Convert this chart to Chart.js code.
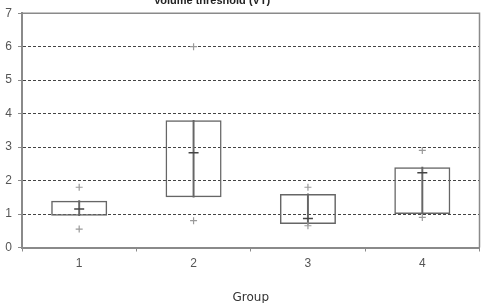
<!DOCTYPE html>
<html>
<head>
<meta charset="utf-8">
<script src="https://cdn.jsdelivr.net/npm/chart.js@4/dist/chart.umd.min.js"></script>
<style>
  html,body{margin:0;padding:0;background:#fff;}
  #wrap{width:486px;height:303px;position:relative;}
</style>
</head>
<body>
<div id="wrap"><canvas id="c"></canvas></div>
<script>
// ----- data -----
const groups = ['1','2','3','4'];
const boxLow  = [0.95, 1.5, 0.7, 1.0];
const boxHigh = [1.4, 3.8, 1.6, 2.4];
const meanV   = [1.15, 2.83, 0.87, 2.23];
const maxV    = [1.8, 6.0, 1.8, 2.9];
const minV    = [0.55, 0.8, 0.65, 0.9];
const yTicks  = [0,1,2,3,4,5,6,7];

const GRAY = '#8a8a8a', INK = '#555';
const boxes = groups.map((g,i)=>[boxLow[i], boxHigh[i]]);

// frame + cut-off title
const frame = {
  id:'frame',
  beforeDatasetsDraw(chart){
    const {ctx, chartArea:a} = chart;
    ctx.save();
    ctx.strokeStyle = GRAY; ctx.lineWidth = 1.5;
    ctx.beginPath();
    ctx.moveTo(a.left, a.top); ctx.lineTo(a.right, a.top); ctx.lineTo(a.right, a.bottom);
    ctx.stroke();
    ctx.restore();
  },
  afterDraw(chart){
    const ctx = chart.ctx;
    ctx.save();
    ctx.font = 'bold 11px "Liberation Sans", Arial, sans-serif';
    ctx.fillStyle = '#222';
    ctx.textAlign = 'center';
    ctx.textBaseline = 'alphabetic';
    ctx.fillText('Volume threshold (VT)', 212, 4);
    ctx.restore();
  }
};

new Chart(document.getElementById('c'), {
  type:'bar',
  data:{
    labels: groups,
    datasets:[
      {type:'line', data:meanV, showLine:false, pointStyle:'line', pointRadius:5, pointHoverRadius:5,
       borderColor:'#444', borderWidth:1.5, order:0},
      {type:'line', data:maxV, showLine:false, pointStyle:'cross', pointRadius:3.5, pointHoverRadius:3.5,
       borderColor:'#9a9a9a', borderWidth:1.2, order:0},
      {type:'line', data:minV, showLine:false, pointStyle:'cross', pointRadius:3.5, pointHoverRadius:3.5,
       borderColor:'#9a9a9a', borderWidth:1.2, order:0},
      {data:boxes, grouped:false, barThickness:1.3, backgroundColor:'#666', borderWidth:0, order:1},
      {data:boxes, grouped:false, categoryPercentage:1, barPercentage:0.49,
       backgroundColor:'rgba(0,0,0,0)', borderColor:'#666', borderWidth:1.5, borderSkipped:false, order:2}
    ]
  },
  options:{
    responsive:true, maintainAspectRatio:false, animation:false,
    layout:{padding:{top:12, right:6, left:0, bottom:0}},
    plugins:{legend:{display:false}, tooltip:{enabled:false}},
    scales:{
      x:{
        offset:true,
        grid:{offset:true, drawOnChartArea:false, drawTicks:true, tickLength:4, tickColor:GRAY},
        border:{color:GRAY, width:2},
        ticks:{color:INK, padding:5, font:{family:'"Liberation Sans", Arial, sans-serif', size:12}},
        title:{display:true, text:'Group', color:'#333', padding:{top:0,bottom:-2},
               font:{family:'"DejaVu Sans", Verdana, sans-serif', size:12}},
        afterFit(s){ s.height = 55.5; }
      },
      y:{
        min:0, max:7,
        afterBuildTicks(s){ s.ticks = yTicks.map(v=>({value:v})); },
        grid:{
          color:c=> (c.tick && (c.tick.value===0 || c.tick.value===7)) ? 'rgba(0,0,0,0)' : '#444',
          lineWidth:1, tickLength:4, tickColor:GRAY, tickBorderDash:[]
        },
        border:{color:GRAY, width:2, dash:[3,2]},
        ticks:{color:INK, padding:6, font:{family:'"Liberation Sans", Arial, sans-serif', size:12}},
        afterFit(s){ s.width = 22; }
      }
    }
  },
  plugins:[frame]
});
</script>
</body>
</html>
